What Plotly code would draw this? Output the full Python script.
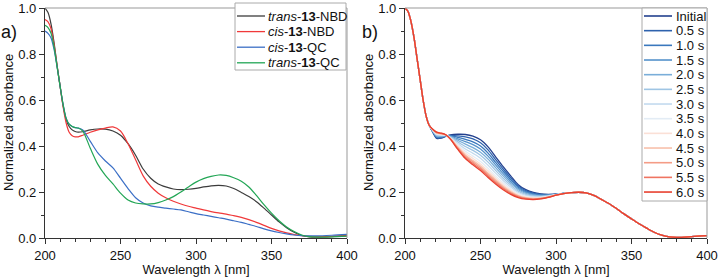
import plotly.graph_objects as go

# ---------------- Panel a data ----------------
wl_a = [200, 202, 204, 206, 208, 210, 212, 214, 216, 218, 220, 222, 225, 230, 235, 240, 245, 250,
        255, 260, 265, 270, 275, 280, 285, 290, 295, 300, 305, 310, 315, 320, 325, 330, 335, 340,
        345, 350, 355, 360, 365, 370, 375, 380, 390, 400]
trans_nbd = [1.0, .98, .93, .85, .75, .66, .575, .515, .485, .47, .463, .46, .462, .47, .474, .473, .465, .447,
             .41, .36, .30, .26, .235, .222, .213, .21, .212, .216, .222, .227, .229, .226, .215, .198, .18, .158,
             .13, .10, .07, .045, .025, .011, .005, .004, .006, .01]
cis_nbd = [.95, .94, .91, .84, .75, .66, .57, .50, .46, .445, .44, .44, .447, .46, .47, .478, .483, .465,
           .41, .34, .27, .225, .195, .175, .16, .148, .138, .13, .122, .115, .109, .104, .097, .09, .08, .068,
           .055, .042, .031, .022, .015, .01, .007, .006, .007, .01]
cis_qc = [.90, .89, .87, .82, .745, .66, .58, .52, .495, .485, .48, .478, .47, .42, .37, .335, .305, .26,
          .215, .175, .152, .14, .134, .13, .126, .122, .114, .106, .10, .094, .088, .082, .075, .068, .059, .05,
          .04, .031, .024, .018, .013, .01, .009, .009, .012, .016]
trans_qc = [.925, .915, .89, .83, .745, .66, .58, .52, .495, .485, .48, .478, .465, .39, .32, .272, .235, .195,
            .165, .152, .148, .148, .154, .165, .18, .20, .222, .243, .258, .268, .274, .272, .262, .247, .222, .185,
            .145, .108, .075, .048, .028, .013, .006, .004, .005, .008]
names_a = ["<i>trans</i>-<b>13</b>-NBD", "<i>cis</i>-<b>13</b>-NBD", "<i>cis</i>-<b>13</b>-QC", "<i>trans</i>-<b>13</b>-QC"]
colors_a = ["#3c3c3c", "#f0393a", "#3b6fc6", "#22a655"]
series_a = [trans_nbd, cis_nbd, cis_qc, trans_qc]

# ---------------- Panel b data ----------------
wl_b_head = [200, 202, 204, 206, 208, 210, 212, 214, 216]
abs_b_head = [1.0, .985, .94, .87, .78, .69, .60, .53, .49]
wl_b_mid = [218, 221, 224, 227, 230, 235, 240, 245, 250, 255, 260, 265, 270, 275, 280, 285, 290, 295, 300, 305]
wl_b_tail = [310, 315, 320, 325, 330, 335, 340, 345, 350, 355, 360, 365, 370, 375, 380, 390, 400]
abs_b_tail = [.197, .199, .196, .185, .168, .15, .128, .105, .083, .062, .043, .025, .012, .005, .003, .006, .01]

b_initial = [.465, .433, .434, .442, .448, .451, .450, .443, .427, .396, .353, .310, .270, .232, .210, .198, .192, .190, .191, .194]
b_05 = [.466, .436, .436, .443, .446, .444, .440, .431, .414, .383, .341, .300, .262, .226, .206, .195, .190, .189, .191, .194]
b_10 = [.467, .438, .438, .443, .444, .438, .429, .418, .400, .369, .329, .290, .254, .221, .202, .192, .188, .187, .190, .194]
b_15 = [.468, .441, .441, .444, .443, .431, .419, .406, .387, .356, .318, .280, .246, .215, .198, .189, .185, .186, .190, .194]
b_20 = [.469, .444, .443, .445, .441, .425, .408, .393, .373, .343, .306, .270, .238, .210, .194, .186, .183, .185, .189, .194]
b_25 = [.470, .447, .445, .446, .439, .418, .398, .381, .360, .330, .294, .260, .230, .204, .190, .183, .181, .184, .189, .194]
b_30 = [.471, .449, .447, .446, .437, .411, .387, .368, .347, .316, .282, .250, .222, .198, .185, .179, .179, .182, .188, .193]
b_35 = [.472, .452, .449, .447, .435, .405, .377, .356, .333, .303, .270, .240, .214, .193, .181, .176, .177, .181, .188, .193]
b_40 = [.473, .454, .451, .447, .434, .400, .368, .346, .322, .292, .261, .232, .208, .188, .178, .174, .175, .180, .187, .193]
b_45 = [.474, .456, .453, .448, .433, .395, .361, .337, .313, .283, .253, .225, .202, .184, .175, .172, .173, .179, .187, .193]
b_50 = [.474, .457, .454, .448, .432, .392, .356, .331, .306, .276, .247, .220, .198, .182, .173, .170, .172, .178, .186, .193]
b_55 = [.475, .459, .455, .449, .431, .388, .350, .324, .300, .270, .241, .215, .194, .179, .171, .169, .171, .178, .186, .193]
b_60 = [.475, .460, .456, .449, .430, .385, .345, .318, .293, .263, .235, .210, .190, .176, .169, .167, .170, .177, .186, .193]
series_b = [b_initial, b_05, b_10, b_15, b_20, b_25, b_30, b_35, b_40, b_45, b_50, b_55, b_60]
names_b = ["Initial", "0.5 s", "1.0 s", "1.5 s", "2.0 s", "2.5 s", "3.0 s", "3.5 s", "4.0 s", "4.5 s",
           "5.0 s", "5.5 s", "6.0 s"]
colors_b = ["#23408e", "#2e62ad", "#3a78bd", "#5592cb", "#7aaed9", "#9fc5e4", "#c3daee", "#e3ecf5",
            "#fbe0d6", "#f8c0ab", "#f49c86", "#ef7461", "#e8402f"]

x_title = "Wavelength λ [nm]"
y_title = "Normalized absorbance"

# ---------------- Layout geometry ----------------
W, H = 720, 277
ML, MR, MT, MB = 45, 13, 8, 39
PW, PH = W - ML - MR, H - MT - MB
FONT = "Liberation Sans, Arial, sans-serif"
FS = 13


def px(x, y):
    return (x - ML) / PW, (H - MB - y) / PH


fig = go.Figure()

for name, ys, col in zip(names_a, series_a, colors_a):
    fig.add_trace(go.Scatter(x=wl_a, y=ys, mode="lines", name=name, xaxis="x", yaxis="y",
                             line=dict(color=col, width=1.2, shape="spline", smoothing=0.8),
                             showlegend=False))

for name, ys, col in zip(names_b, series_b, colors_b):
    fig.add_trace(go.Scatter(x=wl_b_head + wl_b_mid + wl_b_tail, y=abs_b_head + ys + abs_b_tail,
                             mode="lines", name=name, xaxis="x2", yaxis="y2",
                             line=dict(color=col, width=1.3, shape="spline", smoothing=0.8),
                             showlegend=False))

dom_a = [0, (347 - ML) / PW]
dom_b = [(405 - ML) / PW, 1]

axis_common = dict(showline=True, linecolor="#333", linewidth=1.3, ticks="outside", ticklen=5,
                   tickwidth=1, tickcolor="#333", showgrid=False, zeroline=False, mirror=False,
                   automargin=False, tickfont=dict(family=FONT, size=FS, color="#111"))
xcommon = dict(axis_common, range=[200, 400], dtick=50, tick0=200,
               title=dict(text=x_title, standoff=2, font=dict(family=FONT, size=FS, color="#111")),
               minor=dict(ticks="outside", ticklen=3, dtick=10, tick0=200, tickcolor="#333", showgrid=False))
ycommon = dict(axis_common, range=[0, 1.0], dtick=0.2, tickformat=".1f",
               minor=dict(ticks="outside", ticklen=3, dtick=0.1, tickcolor="#333", showgrid=False))

fig.update_layout(
    width=W, height=H,
    margin=dict(l=ML, r=MR, t=MT, b=MB),
    paper_bgcolor="white", plot_bgcolor="white",
    xaxis=dict(xcommon, domain=dom_a, anchor="y"),
    yaxis=dict(ycommon, domain=[0, 1], anchor="x"),
    xaxis2=dict(xcommon, domain=dom_b, anchor="y2"),
    yaxis2=dict(ycommon, domain=[0, 1], anchor="x2"),
    showlegend=False,
)

shapes = []
annotations = []
# top/right frame lines
for d in (dom_a, dom_b):
    shapes.append(dict(type="line", xref="paper", yref="paper", x0=d[0], x1=d[1], y0=1, y1=1,
                       line=dict(color="#999", width=1)))
    shapes.append(dict(type="line", xref="paper", yref="paper", x0=d[1], x1=d[1], y0=0, y1=1,
                       line=dict(color="#999", width=1)))

# y titles and panel labels
for xt, lab in ((8, "a)"), (368, "b)")):
    xp, yp = px(xt, 123)
    annotations.append(dict(text=y_title, xref="paper", yref="paper", x=xp, y=yp,
                            textangle=-90, showarrow=False, xanchor="center", yanchor="middle",
                            font=dict(family=FONT, size=FS, color="#111")))
    lx = -1 if lab == "a)" else 360
    xp, yp = px(lx, 32)
    annotations.append(dict(text=lab, xref="paper", yref="paper", x=xp, y=yp, showarrow=False,
                            xanchor="left", yanchor="middle", font=dict(family=FONT, size=18, color="#111")))

# custom legend a
x0, y0 = px(235, 3)
x1, y1 = px(346, 70)
shapes.append(dict(type="rect", xref="paper", yref="paper", x0=x0, x1=x1, y0=y1, y1=y0,
                   line=dict(color="#aaa", width=1), fillcolor="white", layer="above"))
for i, (name, col) in enumerate(zip(names_a, colors_a)):
    yy = 16 + 15.6 * i
    a0, b0 = px(237, yy)
    a1, _ = px(265, yy)
    shapes.append(dict(type="line", xref="paper", yref="paper", x0=a0, x1=a1, y0=b0, y1=b0,
                       line=dict(color=col, width=1.3), layer="above"))
    tx, ty = px(266, yy)
    annotations.append(dict(text=name, xref="paper", yref="paper", x=tx, y=ty, showarrow=False,
                            xanchor="left", yanchor="middle", font=dict(family=FONT, size=FS, color="#111")))

# custom legend b
x0, y0 = px(642, 8)
x1, y1 = px(707, 201)
shapes.append(dict(type="rect", xref="paper", yref="paper", x0=x0, x1=x1, y0=y1, y1=y0,
                   line=dict(color="#aaa", width=1), fillcolor="white", layer="above"))
for i, (name, col) in enumerate(zip(names_b, colors_b)):
    yy = 16 + 14.67 * i
    a0, b0 = px(644, yy)
    a1, _ = px(672, yy)
    shapes.append(dict(type="line", xref="paper", yref="paper", x0=a0, x1=a1, y0=b0, y1=b0,
                       line=dict(color=col, width=1.6), layer="above"))
    tx, ty = px(674, yy)
    annotations.append(dict(text=name, xref="paper", yref="paper", x=tx, y=ty, showarrow=False,
                            xanchor="left", yanchor="middle", font=dict(family=FONT, size=FS, color="#111")))

fig.update_layout(shapes=shapes, annotations=annotations)
fig.write_html("out.html")
